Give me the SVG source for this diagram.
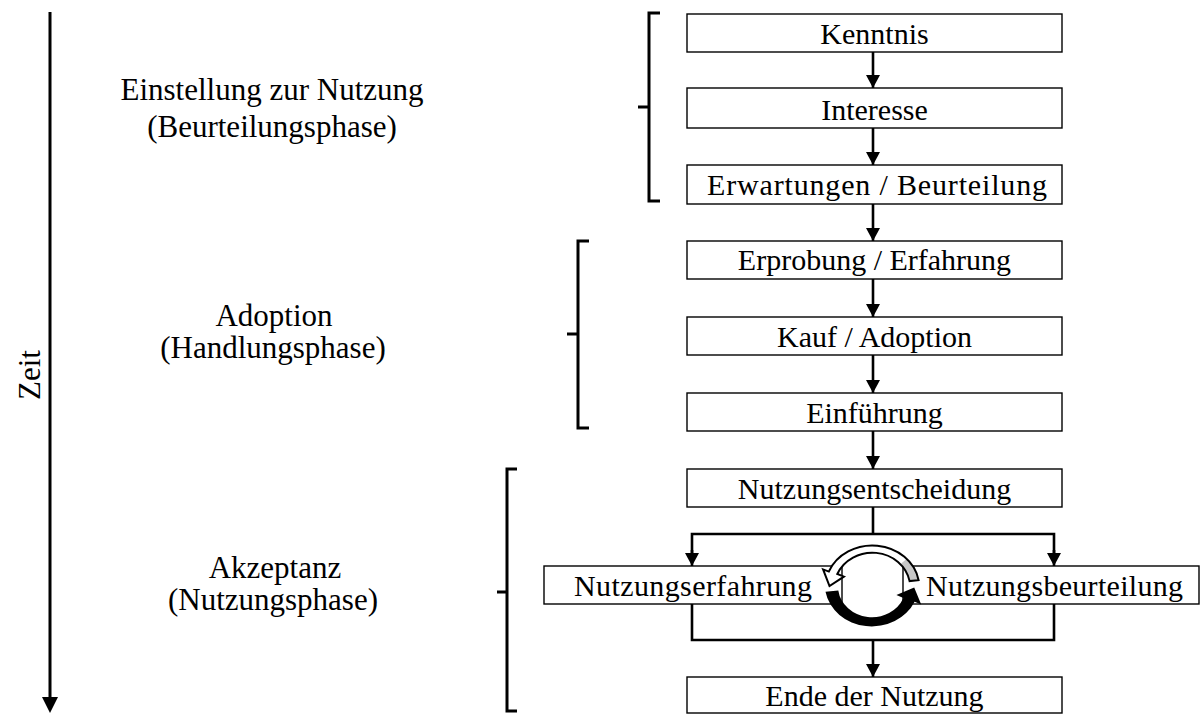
<svg xmlns="http://www.w3.org/2000/svg" width="1200" height="714" viewBox="0 0 1200 714">
  <defs>
    <marker id="ah" markerWidth="13" markerHeight="14" refX="13" refY="7" orient="auto" markerUnits="userSpaceOnUse" viewBox="0 0 13 14">
      <path d="M0,0 L13,7 L0,14 Z" fill="#000"/>
    </marker>
    <style>
      .box { fill: #fff; stroke: #000; stroke-width: 1.4; }
      .lbl { font-family: "Liberation Serif", "Times New Roman", serif; font-size: 30px; fill: #000; text-anchor: middle; }
      .phase { font-family: "Liberation Serif", "Times New Roman", serif; font-size: 31px; fill: #000; text-anchor: middle; }
      .con { fill: none; stroke: #000; stroke-width: 2.6; }
      .brk { fill: none; stroke: #000; stroke-width: 3; }
    </style>
  </defs>

  <rect width="1200" height="714" fill="#fff"/>

  <!-- time axis -->
  <g id="time-axis">
    <line x1="50" y1="12" x2="50" y2="698" stroke="#000" stroke-width="3"/>
    <path d="M42,697 L58,697 L50,713 Z" fill="#000"/>
    <text class="phase" transform="translate(40,375) rotate(-90)">Zeit</text>
  </g>

  <!-- phase labels and braces -->
  <g id="phase-attitude">
    <text class="phase" x="272" y="100">Einstellung zur Nutzung</text>
    <text class="phase" x="272" y="137">(Beurteilungsphase)</text>
    <path class="brk" d="M660,13 L649,13 L649,201 L660,201 M638,107 L649,107"/>
  </g>
  <g id="phase-adoption">
    <text class="phase" x="274" y="326">Adoption</text>
    <text class="phase" x="273" y="358">(Handlungsphase)</text>
    <path class="brk" d="M589,241 L578,241 L578,428 L589,428 M567,334 L578,334"/>
  </g>
  <g id="phase-acceptance">
    <text class="phase" x="275" y="578">Akzeptanz</text>
    <text class="phase" x="273" y="610">(Nutzungsphase)</text>
    <path class="brk" d="M517,469 L507,469 L507,711 L517,711 M497,592 L507,592"/>
  </g>

  <!-- connectors -->
  <g id="connectors">
    <line class="con" x1="873" y1="52" x2="873" y2="88" marker-end="url(#ah)"/>
    <line class="con" x1="873" y1="128" x2="873" y2="165" marker-end="url(#ah)"/>
    <line class="con" x1="873" y1="204" x2="873" y2="241" marker-end="url(#ah)"/>
    <line class="con" x1="873" y1="279" x2="873" y2="317" marker-end="url(#ah)"/>
    <line class="con" x1="873" y1="355" x2="873" y2="393" marker-end="url(#ah)"/>
    <line class="con" x1="873" y1="431" x2="873" y2="469" marker-end="url(#ah)"/>
    <!-- split -->
    <line class="con" x1="873" y1="507" x2="873" y2="534"/>
    <polyline class="con" points="692,553 692,534 1054,534 1054,553"/>
    <line class="con" x1="692" y1="550" x2="692" y2="566" marker-end="url(#ah)"/>
    <line class="con" x1="1054" y1="550" x2="1054" y2="566" marker-end="url(#ah)"/>
    <!-- merge -->
    <polyline class="con" points="692,604 692,640 1054,640 1054,604"/>
    <line class="con" x1="873" y1="640" x2="873" y2="677" marker-end="url(#ah)"/>
  </g>

  <!-- nodes -->
  <g id="n-kenntnis">
    <rect class="box" x="687" y="14" width="375" height="38"/>
    <text class="lbl" x="874.5" y="44">Kenntnis</text>
  </g>
  <g id="n-interesse">
    <rect class="box" x="687" y="88" width="375" height="40"/>
    <text class="lbl" x="874.5" y="120">Interesse</text>
  </g>
  <g id="n-erwartungen">
    <rect class="box" x="687" y="165" width="375" height="39"/>
    <text class="lbl" x="877" y="195" textLength="340" lengthAdjust="spacing">Erwartungen / Beurteilung</text>
  </g>
  <g id="n-erprobung">
    <rect class="box" x="687" y="241" width="375" height="38"/>
    <text class="lbl" x="874.5" y="270">Erprobung / Erfahrung</text>
  </g>
  <g id="n-kauf">
    <rect class="box" x="687" y="317" width="375" height="38"/>
    <text class="lbl" x="874.5" y="347">Kauf / Adoption</text>
  </g>
  <g id="n-einfuehrung">
    <rect class="box" x="687" y="393" width="375" height="38"/>
    <text class="lbl" x="874.5" y="423">Einführung</text>
  </g>
  <g id="n-entscheidung">
    <rect class="box" x="687" y="469" width="375" height="38"/>
    <text class="lbl" x="874.5" y="499">Nutzungsentscheidung</text>
  </g>
  <g id="n-erfahrung">
    <rect class="box" x="544" y="566" width="298" height="38"/>
    <text class="lbl" x="693" y="596" textLength="238" lengthAdjust="spacing">Nutzungserfahrung</text>
  </g>
  <g id="n-beurteilung">
    <rect class="box" x="903" y="566" width="296" height="38"/>
    <text class="lbl" x="926" y="596" style="text-anchor:start" textLength="257" lengthAdjust="spacing">Nutzungsbeurteilung</text>
  </g>
  <g id="n-ende">
    <rect class="box" x="687" y="677" width="375" height="36"/>
    <text class="lbl" x="874.5" y="706">Ende der Nutzung</text>
  </g>

  <!-- feedback cycle between experience and evaluation -->
  <g id="cycle">
    <path d="M918.6,580.2 A47,42 0 0 0 828.8,571.6 L823.1,569.4 L829.5,586 L843.9,576.6 L837.3,574 A38,35 0 0 1 909.6,581.1 Z" fill="#fff"/>
    <path d="M918.6,580.2 A47,42 0 0 0 907.2,558.5 L901.1,563.5 A38,35 0 0 1 909.6,581.1 Z" fill="#c8c8c8"/>
    <path d="M918.6,580.2 A47,42 0 0 0 828.8,571.6 L823.1,569.4 L829.5,586 L843.9,576.6 L837.3,574 A38,35 0 0 1 909.6,581.1 Z" fill="none" stroke="#000" stroke-width="2"/>
    <path d="M825.5,591.8 A47,42 0 0 0 914.6,601.7 L921.2,604.4 L914.2,587.4 L896.4,595 L903.4,598 A34,31 0 0 1 838.3,590.5 Z" fill="#000"/>
  </g>
</svg>
